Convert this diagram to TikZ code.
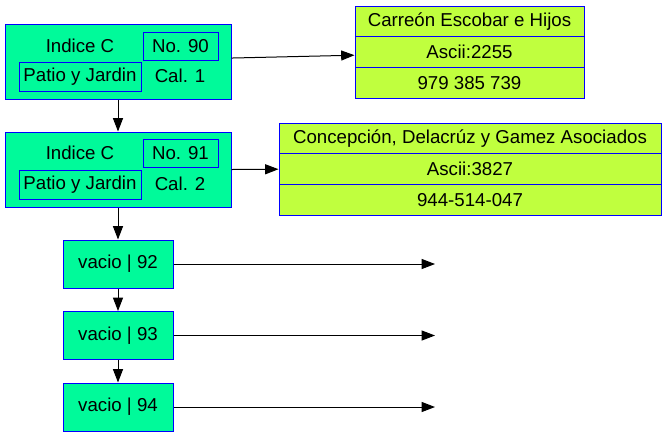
\documentclass[tikz,border=0pt]{standalone}
\usepackage{fontspec}
\setmainfont{Liberation Sans}
\usetikzlibrary{arrows.meta}
\definecolor{nodegreen}{HTML}{00FA9A}
\definecolor{recgreen}{HTML}{C0FF3E}
\definecolor{bordblue}{HTML}{0000FF}
\tikzset{
  every node/.style={font=\fontsize{14}{16.8}\selectfont, text=black},
  outerbox/.style={draw=bordblue, fill=nodegreen, line width=0.75pt, inner sep=0pt, rectangle},
  innerbox/.style={draw=bordblue, line width=0.75pt, inner sep=0pt, rectangle, minimum height=21pt},
  plaintext/.style={inner sep=0pt},
  recrow/.style={draw=bordblue, fill=recgreen, line width=0.75pt, inner sep=0pt, rectangle, minimum height=23pt},
  vacbox/.style={outerbox, minimum width=82.5pt, minimum height=36pt},
  conn/.style={line width=0.75pt, draw=black, -{Triangle[length=10pt,width=7.5pt]}}
}
\begin{document}
\begin{tikzpicture}[x=0.75pt,y=-0.75pt]
\useasboundingbox (0,0) rectangle (667,437);
\fill[white] (0,0) rectangle (667,437);
% node 1
\node[outerbox, minimum width=169.5pt, minimum height=56.25pt] (n1) at (118,61.5) {};
\node[innerbox, minimum width=56.25pt] (n1no) at (180.5,46) {No. 90};
\node[innerbox, minimum width=91.5pt, minimum height=21.75pt] (n1pa) at (80,76.5) {Patio y Jardin};
\node[plaintext] (n1in) at (80,45.5) {Indice C};
\node[plaintext] (n1ca) at (180,76) {Cal. 1};
% node 2
\node[outerbox, minimum width=169.5pt, minimum height=56.25pt] (n2) at (118,169.5) {};
\node[innerbox, minimum width=56.25pt] (n2no) at (180.5,153.5) {No. 91};
\node[innerbox, minimum width=91.5pt, minimum height=21.75pt] (n2pa) at (80,184.5) {Patio y Jardin};
\node[plaintext] (n2in) at (80,153) {Indice C};
\node[plaintext] (n2ca) at (180,184) {Cal. 2};
% record 1
\node[recrow, minimum width=171.75pt] (r1a) at (469.5,21.5) {Carreón Escobar e Hijos};
\node[recrow, minimum width=171.75pt] (r1b) at (469.5,52.2) {Ascii:2255};
\node[recrow, minimum width=171.75pt] (r1c) at (469.5,82.8) {979 385 739};
% record 2
\node[recrow, minimum width=286.5pt] (r2a) at (470,138.5) {Concepción, Delacrúz y Gamez Asociados};
\node[recrow, minimum width=286.5pt] (r2b) at (470,169.2) {Ascii:3827};
\node[recrow, minimum width=286.5pt] (r2c) at (470,199.8) {944-514-047};
% vacio nodes
\node[vacbox] (v92) at (118,264) {vacio | 92};
\node[vacbox] (v93) at (118,335.5) {vacio | 93};
\node[vacbox] (v94) at (118,407) {vacio | 94};
\coordinate (e92) at (435,264);
\coordinate (e93) at (435,335.5);
\coordinate (e94) at (435,407);
% connectors
\draw[conn] (n1) -- (n2);
\draw[conn] (n2) -- (v92);
\draw[conn] (v92) -- (v93);
\draw[conn] (v93) -- (v94);
\draw[conn] ([yshift=2.6pt]n1.east) -- ([yshift=-2.25pt]r1b.west);
\draw[conn] (n2.east) -- (r2b.west);
\draw[conn] (v92.east) -- (e92);
\draw[conn] (v93.east) -- (e93);
\draw[conn] (v94.east) -- (e94);
\end{tikzpicture}
\end{document}
